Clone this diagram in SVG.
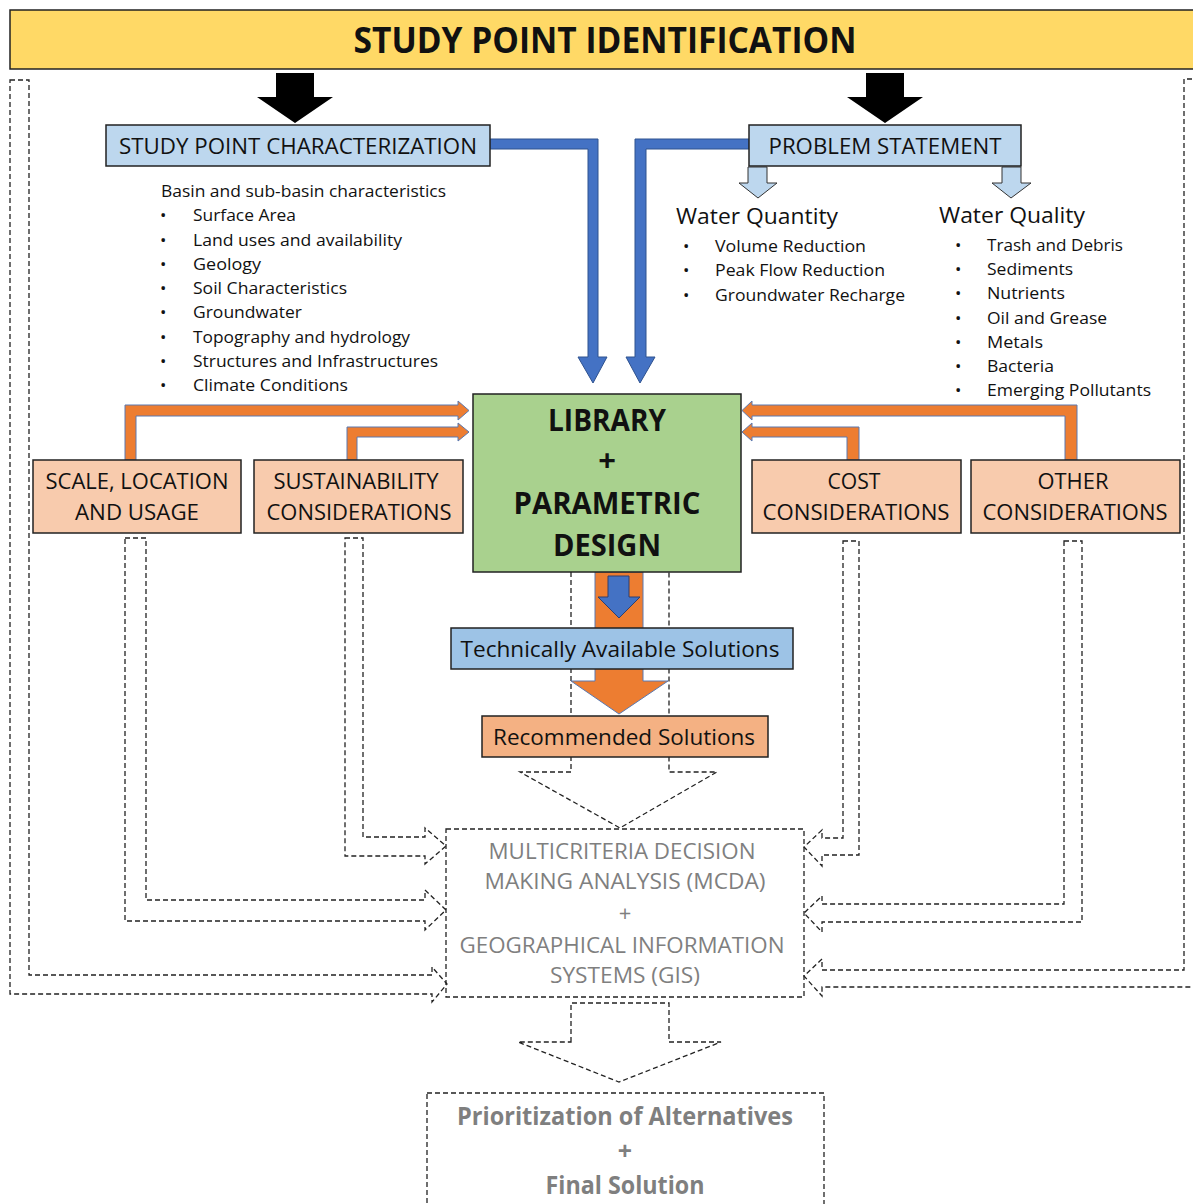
<svg xmlns="http://www.w3.org/2000/svg" width="1193" height="1204" viewBox="0 0 1193 1204">
<style>
text{font-family:"Open Sans","Liberation Sans",sans-serif;fill:#111;}
.t22{font-size:22px;}
.t17{font-size:17px;}
.b{font-weight:bold;}
.gray{fill:#7f7f7f;}
.box{stroke:#222;stroke-width:1.5;}
.dash{fill:none;stroke:#222;stroke-width:1.3;stroke-dasharray:5 3;}
.org{fill:#ED7D31;stroke:#5B79B0;stroke-width:1;}
.blu{fill:#4472C4;stroke:#2F528F;stroke-width:1;}
.lbl{fill:#BDD7EE;stroke:#333;stroke-width:1;}
</style>
<rect width="1193" height="1204" fill="#fff"/>

<g id="connectors">
  <!-- black arrows -->
  <polygon points="276,73 314,73 314,97 333,97 295,123 257,97 276,97" fill="#000"/>
  <polygon points="866,73 904,73 904,97 923,97 885,123 847,97 866,97" fill="#000"/>
  <!-- blue elbows -->
  <polygon class="blu" points="490,139 598,139 598,357 607,357 593,383 578,357 588,357 588,149 490,149"/>
  <polygon class="blu" points="749,139 635,139 635,357 626,357 640,383 655,357 646,357 646,149 749,149"/>
  <!-- light blue small arrows -->
  <polygon class="lbl" points="748,167 767,167 767,183 777,183 758,198 739,183 748,183"/>
  <polygon class="lbl" points="1002,167 1021,167 1021,183 1031,183 1011,198 992,183 1002,183"/>
  <!-- orange elbows -->
  <polygon class="org" points="125,460 125,405 458,405 458,401 469,410.5 458,420 458,416 136,416 136,460"/>
  <polygon class="org" points="347,460 347,427 458,427 458,423 469,432 458,441 458,437 357,437 357,460"/>
  <polygon class="org" points="1077,460 1077,405 752,405 752,401 742,410.5 752,420 752,416 1065,416 1065,460"/>
  <polygon class="org" points="859,460 859,427 752,427 752,423 742,432 752,441 752,437 847,437 847,460"/>
  <!-- dashed arrows -->
  <path class="dash" d="M571,572 V772 H520 L620,828 L717,772 H669 V572"/>
  <path class="dash" d="M345,538 H363 V837 H425 V828 L446,846 L425,864 V856 H345 Z"/>
  <path class="dash" d="M125,538 H146 V900 H425 V890 L446,910 L425,930 V921 H125 Z"/>
  <path class="dash" d="M10,80 H29 V975 H432 V967 L447,984 L432,1002 V994 H10 Z"/>
  <path class="dash" d="M843,541 H859 V855 H822 V866 L804,847 L822,830 V838 H843 Z"/>
  <path class="dash" d="M1064,541 H1082 V922 H822 V932 L804,913 L822,896 V904 H1064 Z"/>
  <path class="dash" d="M1200,79 H1184 V970 H822 V959 L804,976 L822,996 V987 H1200"/>
  <path class="dash" d="M571,1042 V1003 H669 V1042 H721 L619,1082 L518,1042 Z"/>
  <!-- central orange arrow -->
  <polygon class="org" points="595,572 643,572 643,681 668,681 619,714 571,681 595,681"/>
  <polygon points="608,576 629,576 629,597 640,597 619,618 598,597 608,597" fill="#4472C4" stroke="#2F3F6F" stroke-width="1"/>
</g>

<g id="title">
  <rect x="10" y="10" width="1190" height="59" fill="#FFD966" class="box"/>
  <text x="605" y="53" font-size="35" class="b" text-anchor="middle" textLength="503" lengthAdjust="spacingAndGlyphs">STUDY POINT IDENTIFICATION</text>
</g>

<g id="spc">
  <rect x="106" y="125" width="384" height="41" fill="#BDD7EE" class="box"/>
  <text x="298" y="154" class="t22" text-anchor="middle" textLength="358" lengthAdjust="spacingAndGlyphs">STUDY POINT CHARACTERIZATION</text>
</g>

<g id="spc-list" class="t17">
  <text x="161" y="197" class="t17" textLength="285" lengthAdjust="spacingAndGlyphs">Basin and sub-basin characteristics</text>
  <g class="t17">
    <text x="160" y="221">•</text><text x="193" y="221" textLength="103" lengthAdjust="spacingAndGlyphs">Surface Area</text>
    <text x="160" y="246">•</text><text x="193" y="246" textLength="209" lengthAdjust="spacingAndGlyphs">Land uses and availability</text>
    <text x="160" y="270">•</text><text x="193" y="270" textLength="68" lengthAdjust="spacingAndGlyphs">Geology</text>
    <text x="160" y="294">•</text><text x="193" y="294" textLength="154" lengthAdjust="spacingAndGlyphs">Soil Characteristics</text>
    <text x="160" y="318">•</text><text x="193" y="318" textLength="109" lengthAdjust="spacingAndGlyphs">Groundwater</text>
    <text x="160" y="343">•</text><text x="193" y="343" textLength="217" lengthAdjust="spacingAndGlyphs">Topography and hydrology</text>
    <text x="160" y="367">•</text><text x="193" y="367" textLength="245" lengthAdjust="spacingAndGlyphs">Structures and Infrastructures</text>
    <text x="160" y="391">•</text><text x="193" y="391" textLength="155" lengthAdjust="spacingAndGlyphs">Climate Conditions</text>
  </g>
</g>

<g id="ps">
  <rect x="749" y="125" width="272" height="41" fill="#BDD7EE" class="box"/>
  <text x="885" y="154" class="t22" text-anchor="middle" textLength="233" lengthAdjust="spacingAndGlyphs">PROBLEM STATEMENT</text>
</g>

<g id="water-quantity" class="t17">
  <text x="676" y="224" class="t22" textLength="162" lengthAdjust="spacingAndGlyphs">Water Quantity</text>
  <text x="683" y="252" class="t17">•</text><text x="715" y="252" class="t17" textLength="151" lengthAdjust="spacingAndGlyphs">Volume Reduction</text>
  <text x="683" y="276" class="t17">•</text><text x="715" y="276" class="t17" textLength="170" lengthAdjust="spacingAndGlyphs">Peak Flow Reduction</text>
  <text x="683" y="301" class="t17">•</text><text x="715" y="301" class="t17" textLength="190" lengthAdjust="spacingAndGlyphs">Groundwater Recharge</text>
</g>

<g id="water-quality" class="t17">
  <text x="939" y="223" class="t22" textLength="146" lengthAdjust="spacingAndGlyphs">Water Quality</text>
  <text x="955" y="251" class="t17">•</text><text x="987" y="251" class="t17" textLength="136" lengthAdjust="spacingAndGlyphs">Trash and Debris</text>
  <text x="955" y="275" class="t17">•</text><text x="987" y="275" class="t17" textLength="86" lengthAdjust="spacingAndGlyphs">Sediments</text>
  <text x="955" y="299" class="t17">•</text><text x="987" y="299" class="t17" textLength="78" lengthAdjust="spacingAndGlyphs">Nutrients</text>
  <text x="955" y="324" class="t17">•</text><text x="987" y="324" class="t17" textLength="120" lengthAdjust="spacingAndGlyphs">Oil and Grease</text>
  <text x="955" y="348" class="t17">•</text><text x="987" y="348" class="t17" textLength="56" lengthAdjust="spacingAndGlyphs">Metals</text>
  <text x="955" y="372" class="t17">•</text><text x="987" y="372" class="t17" textLength="67" lengthAdjust="spacingAndGlyphs">Bacteria</text>
  <text x="955" y="396" class="t17">•</text><text x="987" y="396" class="t17" textLength="164" lengthAdjust="spacingAndGlyphs">Emerging Pollutants</text>
</g>

<g id="library">
  <rect x="473" y="394" width="268" height="178" fill="#A9D18E" class="box"/>
  <text x="607" y="431" font-size="31" class="b" text-anchor="middle" textLength="118" lengthAdjust="spacingAndGlyphs">LIBRARY</text>
  <text x="607" y="471" font-size="31" class="b" text-anchor="middle">+</text>
  <text x="607" y="514" font-size="31" class="b" text-anchor="middle" textLength="187" lengthAdjust="spacingAndGlyphs">PARAMETRIC</text>
  <text x="607" y="556" font-size="31" class="b" text-anchor="middle" textLength="108" lengthAdjust="spacingAndGlyphs">DESIGN</text>
</g>

<g id="scale">
  <rect x="33" y="460" width="208" height="73" fill="#F8CBAD" class="box"/>
  <text x="137" y="489" class="t22" text-anchor="middle" textLength="183" lengthAdjust="spacingAndGlyphs">SCALE, LOCATION</text>
  <text x="137" y="520" class="t22" text-anchor="middle" textLength="124" lengthAdjust="spacingAndGlyphs">AND USAGE</text>
</g>

<g id="sustainability">
  <rect x="254" y="460" width="209" height="73" fill="#F8CBAD" class="box"/>
  <text x="356" y="489" class="t22" text-anchor="middle" textLength="165" lengthAdjust="spacingAndGlyphs">SUSTAINABILITY</text>
  <text x="359" y="520" class="t22" text-anchor="middle" textLength="185" lengthAdjust="spacingAndGlyphs">CONSIDERATIONS</text>
</g>

<g id="cost">
  <rect x="752" y="460" width="209" height="73" fill="#F8CBAD" class="box"/>
  <text x="854" y="489" class="t22" text-anchor="middle" textLength="53" lengthAdjust="spacingAndGlyphs">COST</text>
  <text x="856" y="520" class="t22" text-anchor="middle" textLength="187" lengthAdjust="spacingAndGlyphs">CONSIDERATIONS</text>
</g>

<g id="other">
  <rect x="971" y="460" width="209" height="73" fill="#F8CBAD" class="box"/>
  <text x="1073" y="489" class="t22" text-anchor="middle" textLength="71" lengthAdjust="spacingAndGlyphs">OTHER</text>
  <text x="1075" y="520" class="t22" text-anchor="middle" textLength="185" lengthAdjust="spacingAndGlyphs">CONSIDERATIONS</text>
</g>

<g id="technical">
  <rect x="451" y="628" width="342" height="41" fill="#9DC3E6" class="box"/>
  <text x="620" y="657" class="t22" text-anchor="middle" textLength="319" lengthAdjust="spacingAndGlyphs">Technically Available Solutions</text>
</g>

<g id="recommended">
  <rect x="482" y="716" width="286" height="41" fill="#F4B183" class="box"/>
  <text x="624" y="745" class="t22" text-anchor="middle" textLength="262" lengthAdjust="spacingAndGlyphs">Recommended Solutions</text>
</g>

<g id="mcda">
  <rect x="446" y="829" width="358" height="168" class="dash"/>
  <text x="622" y="859" class="t22 gray" text-anchor="middle" textLength="267" lengthAdjust="spacingAndGlyphs">MULTICRITERIA DECISION</text>
  <text x="625" y="889" class="t22 gray" text-anchor="middle" textLength="281" lengthAdjust="spacingAndGlyphs">MAKING ANALYSIS (MCDA)</text>
  <text x="625" y="921" class="t22 gray" text-anchor="middle">+</text>
  <text x="622" y="953" class="t22 gray" text-anchor="middle" textLength="325" lengthAdjust="spacingAndGlyphs">GEOGRAPHICAL INFORMATION</text>
  <text x="625" y="983" class="t22 gray" text-anchor="middle" textLength="150" lengthAdjust="spacingAndGlyphs">SYSTEMS (GIS)</text>
</g>

<g id="final">
  <rect x="427" y="1093" width="397" height="130" class="dash"/>
  <text x="625" y="1125" font-size="25" class="b gray" text-anchor="middle" textLength="336" lengthAdjust="spacingAndGlyphs">Prioritization of Alternatives</text>
  <text x="625" y="1160" font-size="25" class="b gray" text-anchor="middle">+</text>
  <text x="625" y="1194" font-size="25" class="b gray" text-anchor="middle" textLength="159" lengthAdjust="spacingAndGlyphs">Final Solution</text>
</g>
</svg>
